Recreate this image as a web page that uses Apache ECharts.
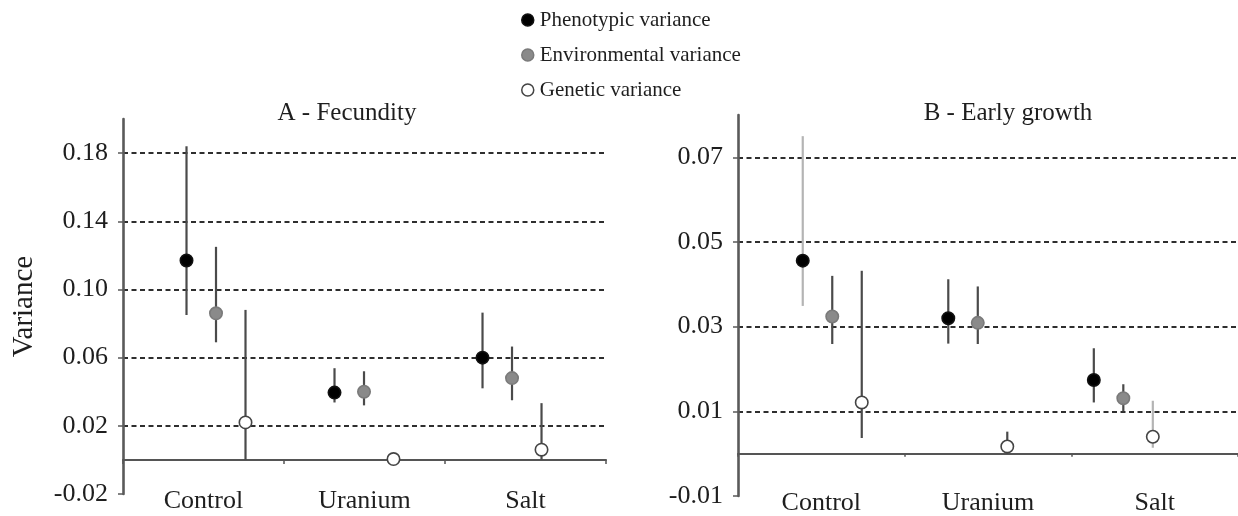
<!DOCTYPE html>
<html><head><meta charset="utf-8">
<script src="https://cdn.jsdelivr.net/npm/echarts@6/dist/echarts.min.js"></script>
<style>html,body{margin:0;padding:0;background:#fff}#c{width:1238px;height:516px}</style>
</head><body><div id="c"></div>
<script>
// ---------------- data ----------------
const categories = ['Control', 'Uranium', 'Salt'];
const seriesNames = ['Phenotypic variance', 'Environmental variance', 'Genetic variance'];

// Panel A - Fecundity
const fecTitle = 'A - Fecundity';
const fecYTicks = [-0.02, 0.02, 0.06, 0.10, 0.14, 0.18];
const fecYMax = 0.2;
const fecPhenoMean = [0.117, 0.0395, 0.060];
const fecPhenoLow  = [0.085, 0.0337, 0.042];
const fecPhenoHigh = [0.184, 0.0538, 0.0864];
const fecEnvMean   = [0.086, 0.040, 0.048];
const fecEnvLow    = [0.069, 0.032, 0.035];
const fecEnvHigh   = [0.125, 0.052, 0.0665];
const fecGenMean   = [0.022, 0.0005, 0.006];
const fecGenLow    = [0.0, 0.0005, 0.0];
const fecGenHigh   = [0.088, 0.0005, 0.0333];

// Panel B - Early growth
const grTitle = 'B - Early growth';
const grYTicks = [-0.01, 0.01, 0.03, 0.05, 0.07];
const grYMax = 0.08;
const grPhenoMean = [0.0456, 0.032, 0.0174];
const grPhenoLow  = [0.0349, 0.026, 0.0121];
const grPhenoHigh = [0.075, 0.0412, 0.0249];
const grEnvMean   = [0.0324, 0.0309, 0.0131];
const grEnvLow    = [0.0259, 0.0259, 0.0100];
const grEnvHigh   = [0.0420, 0.0395, 0.0164];
const grGenMean   = [0.0121, 0.0017, 0.0040];
const grGenLow    = [0.0037, 0.0, 0.0014];
const grGenHigh   = [0.0432, 0.0052, 0.0125];

const yAxisName = 'Variance';

// ---------------- styles ----------------
const FONT = '"Liberation Serif", "Times New Roman", serif';
const TXT = '#1e1e1e';
const fills   = ['#000000', '#8a8a8a', '#ffffff'];
const strokes = ['#111111', '#7a7a7a', '#444444'];
const DARK = '#4a4a4a', LIGHT = '#b4b4b4';
// error-bar line colours [series][category]
const fecLineColors = [[DARK, DARK, DARK], [DARK, DARK, DARK], [DARK, DARK, DARK]];
const grLineColors  = [[LIGHT, DARK, DARK], [DARK, DARK, DARK], [DARK, DARK, LIGHT]];
const offsetsPx = [-29.5, 0, 29.5];

function rows(mean, low, high) {
  return categories.map((c, i) => [i, mean[i], low[i], high[i]]);
}

function makeRender(si, lineColors) {
  return function (params, api) {
    const x = api.value(0);
    const pm = api.coord([x, api.value(1)]);
    const pl = api.coord([x, api.value(2)]);
    const ph = api.coord([x, api.value(3)]);
    const cx = pm[0] + offsetsPx[si];
    const children = [];
    if (Math.abs(ph[1] - pl[1]) > 0.5) {
      children.push({ type: 'line', shape: { x1: cx, y1: pl[1], x2: cx, y2: ph[1] },
        style: { stroke: lineColors[si][params.dataIndex], lineWidth: 2.2 } });
    }
    children.push({ type: 'circle', shape: { cx: cx, cy: pm[1], r: 6.2 },
      style: { fill: fills[si], stroke: strokes[si], lineWidth: 1.6 } });
    return { type: 'group', children: children };
  };
}

function yAxisFor(ticks, max, gridIndex, withName) {
  return {
    type: 'value', gridIndex: gridIndex,
    min: ticks[0], max: max, interval: ticks[1] - ticks[0],
    name: withName ? yAxisName : '', nameLocation: 'middle', nameGap: 84,
    nameTextStyle: { fontFamily: FONT, fontSize: 29, color: TXT },
    axisLine: { show: true, onZero: false, lineStyle: { color: '#5a5a5a', width: 2.6 } },
    axisTick: { show: true, length: 5, lineStyle: { color: '#5a5a5a', width: 1.5 } },
    axisLabel: { showMaxLabel: false, margin: 15, fontFamily: FONT, fontSize: 26, color: TXT,
      formatter: v => v.toFixed(2) },
    splitLine: { show: true, showMaxLine: false, showMinLine: false,
      lineStyle: { type: [5, 3.5], color: '#2e2e2e', width: 2 } }
  };
}

function xAxesFor(gridIndex, vmin, vmax, tickLen) {
  return [
    { // axis line on zero with boundary ticks
      type: 'category', gridIndex: gridIndex, data: categories, boundaryGap: true,
      axisLine: { onZero: true, lineStyle: { color: '#555', width: 2.2 } },
      axisTick: { show: true, length: tickLen, lineStyle: { color: '#555', width: 1.5 } },
      axisLabel: { show: false }, splitLine: { show: false }
    },
    { // category labels at the bottom
      type: 'category', gridIndex: gridIndex, data: categories, boundaryGap: true,
      position: 'bottom',
      axisLine: { show: false, onZero: false }, axisTick: { show: false },
      axisLabel: { show: true, margin: -6, fontFamily: FONT, fontSize: 26, color: TXT },
      splitLine: { show: false }
    },
    { // hidden value axis positioning the point groups
      type: 'value', gridIndex: gridIndex, min: vmin, max: vmax, show: false,
      axisLine: { onZero: false }, splitLine: { show: false }
    }
  ];
}

const series = [];
const fecData = [rows(fecPhenoMean, fecPhenoLow, fecPhenoHigh),
                 rows(fecEnvMean, fecEnvLow, fecEnvHigh),
                 rows(fecGenMean, fecGenLow, fecGenHigh)];
const grData = [rows(grPhenoMean, grPhenoLow, grPhenoHigh),
                rows(grEnvMean, grEnvLow, grEnvHigh),
                rows(grGenMean, grGenLow, grGenHigh)];
[fecData, grData].forEach((panel, p) => {
  panel.forEach((d, si) => {
    series.push({
      type: 'custom', name: seriesNames[si],
      xAxisIndex: p * 3 + 2, yAxisIndex: p,
      data: d, encode: { x: 0, y: [1, 2, 3] },
      itemStyle: { color: fills[si], borderColor: strokes[si] },
      renderItem: makeRender(si, p === 0 ? fecLineColors : grLineColors),
      z: 3 + si
    });
  });
});

const option = {
  backgroundColor: '#ffffff',
  animation: false,
  title: [
    { text: fecTitle, left: 342, top: 96, textAlign: 'center',
      textStyle: { fontFamily: FONT, fontSize: 25, fontWeight: 'normal', color: TXT } },
    { text: grTitle, left: 1003, top: 96, textAlign: 'center',
      textStyle: { fontFamily: FONT, fontSize: 25, fontWeight: 'normal', color: TXT } }
  ],
  legend: {
    orient: 'vertical', left: 516, top: 4, itemWidth: 12, itemHeight: 12, itemGap: 13,
    textStyle: { fontFamily: FONT, fontSize: 21, color: TXT, lineHeight: 22, padding: [0, 0, 0, 1] },
    data: seriesNames.map((n, i) => ({ name: n, icon: 'circle',
      itemStyle: { color: fills[i], borderColor: strokes[i], borderWidth: 1.5 } }))
  },
  grid: [
    { left: 123, right: 632, top: 119, bottom: 22, containLabel: false },
    { left: 738, right: -4, top: 115, bottom: 14, containLabel: false }
  ],
  xAxis: [].concat(
    xAxesFor(0, -0.6284, 2.635, 4),
    xAxesFor(1, -0.6476, 2.788, 3)
  ),
  yAxis: [
    yAxisFor(fecYTicks, fecYMax, 0, true),
    yAxisFor(grYTicks, grYMax, 1, false)
  ],
  series: series
};

const chart = echarts.init(document.getElementById('c'), null, { renderer: 'canvas' });
chart.setOption(option);
</script>
</body></html>
